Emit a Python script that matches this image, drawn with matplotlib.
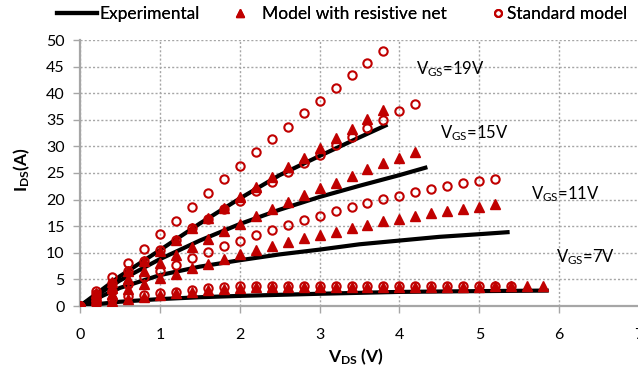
import numpy as np
import matplotlib
matplotlib.use("Agg")
import matplotlib.pyplot as plt
from matplotlib.lines import Line2D

plt.rcParams['font.family'] = ['Lato', 'DejaVu Sans']
plt.rcParams['mathtext.fontset'] = 'custom'
plt.rcParams['mathtext.rm'] = 'Lato'
plt.rcParams['mathtext.it'] = 'Lato:italic'
plt.rcParams['mathtext.bf'] = 'Lato:bold'

# ---- data ----
step = 0.2
std19 = [0, 2.8, 5.5, 8.1, 10.8, 13.5, 16.0, 18.7, 21.3, 23.8, 26.3, 28.9, 31.3, 33.7, 36.3, 38.6, 41.0, 43.4, 45.7, 47.9]
tri19 = [0, 2.4, 4.5, 6.5, 8.5, 10.4, 12.5, 14.6, 16.6, 18.5, 20.4, 22.3, 24.3, 26.1, 27.9, 29.7, 31.5, 33.3, 35.1, 36.8]
std15 = [0, 2.2, 4.3, 6.5, 8.5, 10.5, 12.5, 14.6, 16.4, 18.2, 19.8, 21.6, 23.4, 25.2, 26.9, 28.4, 30.3, 31.8, 33.5, 35.0, 36.6, 38.0]
tri15 = [0, 1.8, 3.4, 5.0, 6.5, 8.1, 9.6, 11.1, 12.6, 14.1, 15.5, 16.9, 18.2, 19.5, 20.9, 22.1, 23.2, 24.5, 25.7, 26.8, 27.9, 29.0]
std11 = [0, 1.5, 2.9, 4.2, 5.4, 6.6, 7.7, 9.1, 10.2, 11.3, 12.3, 13.3, 14.3, 15.2, 16.2, 17.0, 17.9, 18.7, 19.4, 20.1, 20.7, 21.4, 22.0, 22.6, 23.1, 23.5, 23.9]
tri11 = [0, 1.1, 2.2, 3.2, 4.2, 5.2, 6.1, 7.1, 7.9, 8.8, 9.7, 10.5, 11.3, 12.1, 12.7, 13.3, 14.0, 14.7, 15.3, 15.9, 16.4, 16.9, 17.4, 17.8, 18.3, 18.7, 19.1]
std7 = [0, 0.7, 1.3, 1.8, 2.1, 2.4, 2.7, 3.0, 3.3, 3.5, 3.7, 3.7, 3.75, 3.75, 3.75, 3.75, 3.75, 3.75, 3.75, 3.75, 3.75, 3.75, 3.75, 3.75, 3.75, 3.75, 3.75, 3.75]
tri7 = [0, 0.5, 1.0, 1.4, 1.7, 2.0, 2.4, 2.7, 3.0, 3.2, 3.4, 3.5, 3.5, 3.55, 3.55, 3.55, 3.6, 3.6, 3.6, 3.6, 3.6, 3.6, 3.6, 3.65, 3.65, 3.65, 3.7, 3.7, 3.8, 3.85]

exp19_v = [0, 0.5, 1, 1.5, 2, 2.5, 3, 3.5, 3.85]
exp19_i = [0, 5.6, 10.5, 15.5, 20.2, 24.6, 28.2, 31.7, 34.1]
exp15_v = [0, 0.5, 1, 1.5, 2, 2.5, 3, 3.5, 4, 4.35]
exp15_i = [0, 4.8, 8.8, 12.3, 15.4, 18.1, 20.5, 22.6, 24.6, 26.1]
exp11_v = [0, 0.5, 1, 1.5, 2, 2.5, 3, 3.5, 4, 4.5, 5, 5.38]
exp11_i = [0, 3.4, 5.8, 7.4, 8.6, 9.7, 10.6, 11.6, 12.3, 13.0, 13.5, 13.9]
exp7_v = [0, 0.5, 1, 1.5, 2, 3, 4, 5, 5.87]
exp7_i = [0, 0.8, 1.3, 1.65, 1.9, 2.3, 2.65, 2.8, 2.9]

labels = ['19V', '15V', '11V', '7V']
label_pos = [(4.21, 43.6), (4.51, 31.6), (5.65, 20.0), (5.96, 8.3)]

x_ticks = list(range(0, 8))
y_ticks = list(range(0, 55, 5))

red = '#C00000'
grid_c = '#A6A6A6'

fig = plt.figure(figsize=(6.38, 3.79), dpi=100)
ax = fig.add_axes([80/638, (379-306)/379, 559/638, 266/379])

for v, i in [(exp19_v, exp19_i), (exp15_v, exp15_i), (exp11_v, exp11_i), (exp7_v, exp7_i)]:
    ax.plot(v, i, color='black', lw=3, solid_capstyle='butt', zorder=3)

for arr in [tri19, tri15, tri11, tri7]:
    x = np.arange(len(arr)) * step
    ax.plot(x, arr, ls='none', marker='^', ms=6.5, color=red, mec=red, zorder=4)

for arr in [std19, std15, std11, std7]:
    x = np.arange(len(arr)) * step
    ax.plot(x, arr, ls='none', marker='o', ms=6, mfc='none', mec=red, mew=1.5, zorder=5)

for lab, (px, py) in zip(labels, label_pos):
    ax.text(px, py, r'V$_{\mathrm{GS}}$=' + lab, fontsize=12, ha='left', va='baseline', zorder=6)

ax.set_xlim(0, 7)
ax.set_ylim(0, 50)
ax.set_xticks(x_ticks)
ax.set_yticks(y_ticks)
ax.grid(True, color=grid_c, ls=(0, (1.5, 1.5)), lw=1.0)
ax.set_axisbelow(True)
for s in ['top', 'right']:
    ax.spines[s].set_visible(False)
for s in ['left', 'bottom']:
    ax.spines[s].set_color(grid_c)
    ax.spines[s].set_linewidth(1.6)
ax.tick_params(axis='both', colors=grid_c, length=5, width=1, labelcolor='black', labelsize=11.5, direction='out')
ax.tick_params(axis='x', pad=11)
ax.tick_params(axis='y', pad=6)

fig.text(356/638, 1 - 357/379, r'$\mathbf{V_{DS}}$ (V)', fontsize=12.5, fontweight='bold', ha='center', va='center')
fig.text(22/638, 1 - 170/379, r'$\mathbf{I_{DS}(A)}$', fontsize=12.5, fontweight='bold', ha='center', va='center', rotation=90)

leg_y = 1 - 14/379
h_line = Line2D([], [], color='black', lw=3)
h_tri = Line2D([], [], ls='none', marker='^', ms=6, color=red)
h_circ = Line2D([], [], ls='none', marker='o', ms=5, mfc='none', mec=red, mew=1.5)
leg_specs = [
    (h_line, 'Experimental', 57, 2.3, 0.15),
    (h_tri, 'Model with resistive net', 220, 2.3, 0.1),
    (h_circ, 'Standard model', 491, 0.8, 0.15),
]
for h, txt, x0, hl, tp in leg_specs:
    lg = fig.legend([h], [txt], loc='center left', bbox_to_anchor=(x0/638, leg_y),
                    frameon=False, fontsize=12.5, handlelength=hl, handletextpad=tp,
                    borderpad=0, borderaxespad=0)
    fig.add_artist(lg)

fig.savefig('out.png', dpi=100)
